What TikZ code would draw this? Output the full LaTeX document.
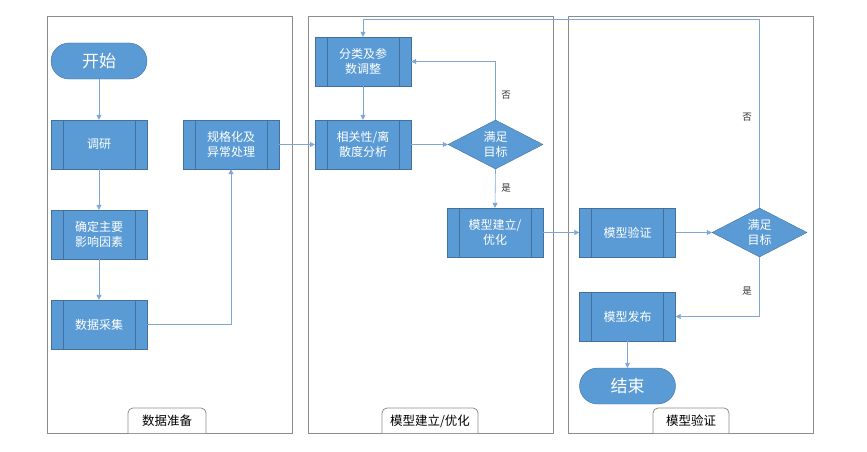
\documentclass[tikz,border=0pt]{standalone}
\usepackage{fontspec}
\newfontfamily\cjk{Noto Sans CJK SC}
\usetikzlibrary{shapes.geometric,arrows.meta}
\definecolor{boxfill}{HTML}{5B9BD5}
\definecolor{boxline}{HTML}{41719C}
\definecolor{conn}{HTML}{7FA7D6}
\definecolor{panel}{HTML}{8C8C8C}
\begin{document}
\begin{tikzpicture}[x=1pt,y=-1pt,
  proc/.style={draw=boxline,fill=boxfill,minimum width=96pt,minimum height=49pt,
    inner sep=0pt,align=center,text=white,font=\cjk\fontsize{12}{15}\selectfont,
    path picture={\draw[boxline] ([xshift=12pt]path picture bounding box.north west) -- ([xshift=12pt]path picture bounding box.south west);
                  \draw[boxline] ([xshift=-12pt]path picture bounding box.north east) -- ([xshift=-12pt]path picture bounding box.south east);}},
  term/.style={draw=boxline,fill=boxfill,minimum width=96pt,minimum height=36pt,
    rounded corners=18pt,inner sep=0pt,text=white,font=\cjk\fontsize{17}{20}\selectfont},
  decide/.style={draw=boxline,fill=boxfill,diamond,aspect=1.94,minimum width=95pt,minimum height=49pt,
    inner sep=0pt,align=center,text=white,font=\cjk\fontsize{12}{15}\selectfont},
  conn/.style={draw=conn,line width=0.6pt,-{Triangle[length=5pt,width=5pt]}},
  lbl/.style={font=\cjk\fontsize{9.5}{11}\selectfont,text=black!80},
  panelbox/.style={draw=panel,line width=0.8pt},
  tab/.style={draw=panel,fill=white,line width=0.8pt,rounded corners=5pt},
  tabtext/.style={font=\cjk\fontsize{12.5}{14}\selectfont,text=black}
]
\path[use as bounding box] (0,0) rectangle (867,452);
% panels
\draw[panelbox] (47,16) rectangle (292,433);
\draw[panelbox] (308,16) rectangle (553,433);
\draw[panelbox] (568,16) rectangle (813,433);
% tabs
\draw[tab] (128,433) -- (128,408) -- (206,408) -- (206,433);
\node[tabtext] (t1) at (167,421) {数据准备};
\draw[tab] (382,433) -- (382,408) -- (478,408) -- (478,433);
\node[tabtext] (t2) at (430,421) {模型建立/优化};
\draw[tab] (653,433) -- (653,408) -- (729,408) -- (729,433);
\node[tabtext] (t3) at (691,421) {模型验证};
% nodes
\node[term] (start) at (99,61) {开始};
\node[proc] (dy) at (99,144.5) {调研};
\node[proc] (qd) at (99,234.5) {确定主要\\影响因素};
\node[proc] (cj) at (99,324.5) {数据采集};
\node[proc] (gg) at (231,144.5) {规格化及\\异常处理};
\node[proc] (fl) at (363,61.5) {分类及参\\数调整};
\node[proc] (xg) at (363,144.5) {相关性/离\\散度分析};
\node[decide] (d1) at (495.5,144.5) {满足\\目标};
\node[proc] (jl) at (495,232.5) {模型建立/\\优化};
\node[proc] (yz) at (627.5,232.5) {模型验证};
\node[decide] (d2) at (759.5,232.5) {满足\\目标};
\node[proc] (fb) at (627.5,316.5) {模型发布};
\node[term] (end) at (627.5,386) {结束};
% connectors
\draw[conn] (start) -- (dy);
\draw[conn] (dy) -- (qd);
\draw[conn] (qd) -- (cj);
\draw[conn] (cj.east) -| (gg.south);
\draw[conn] (gg.east) -- (xg.west);
\draw[conn] (fl) -- (xg);
\draw[conn] (xg.east) -- (d1.west);
\draw[conn] (d1.north) |- (fl.east);
\node[lbl] (no1) at (506,95) {否};
\draw[conn] (d1.south) -- (jl.north);
\node[lbl] (yes1) at (506,188) {是};
\draw[conn] (jl.east) -- (yz.west);
\draw[conn] (yz.east) -- (d2.west);
\coordinate (c1) at (759.5,19);
\draw[conn] (d2.north) -- (c1) -| (fl.north);
\node[lbl] (no2) at (747,117) {否};
\draw[conn] (d2.south) |- (fb.east);
\node[lbl] (yes2) at (747,291) {是};
\draw[conn] (fb) -- (end);
\end{tikzpicture}
\end{document}
